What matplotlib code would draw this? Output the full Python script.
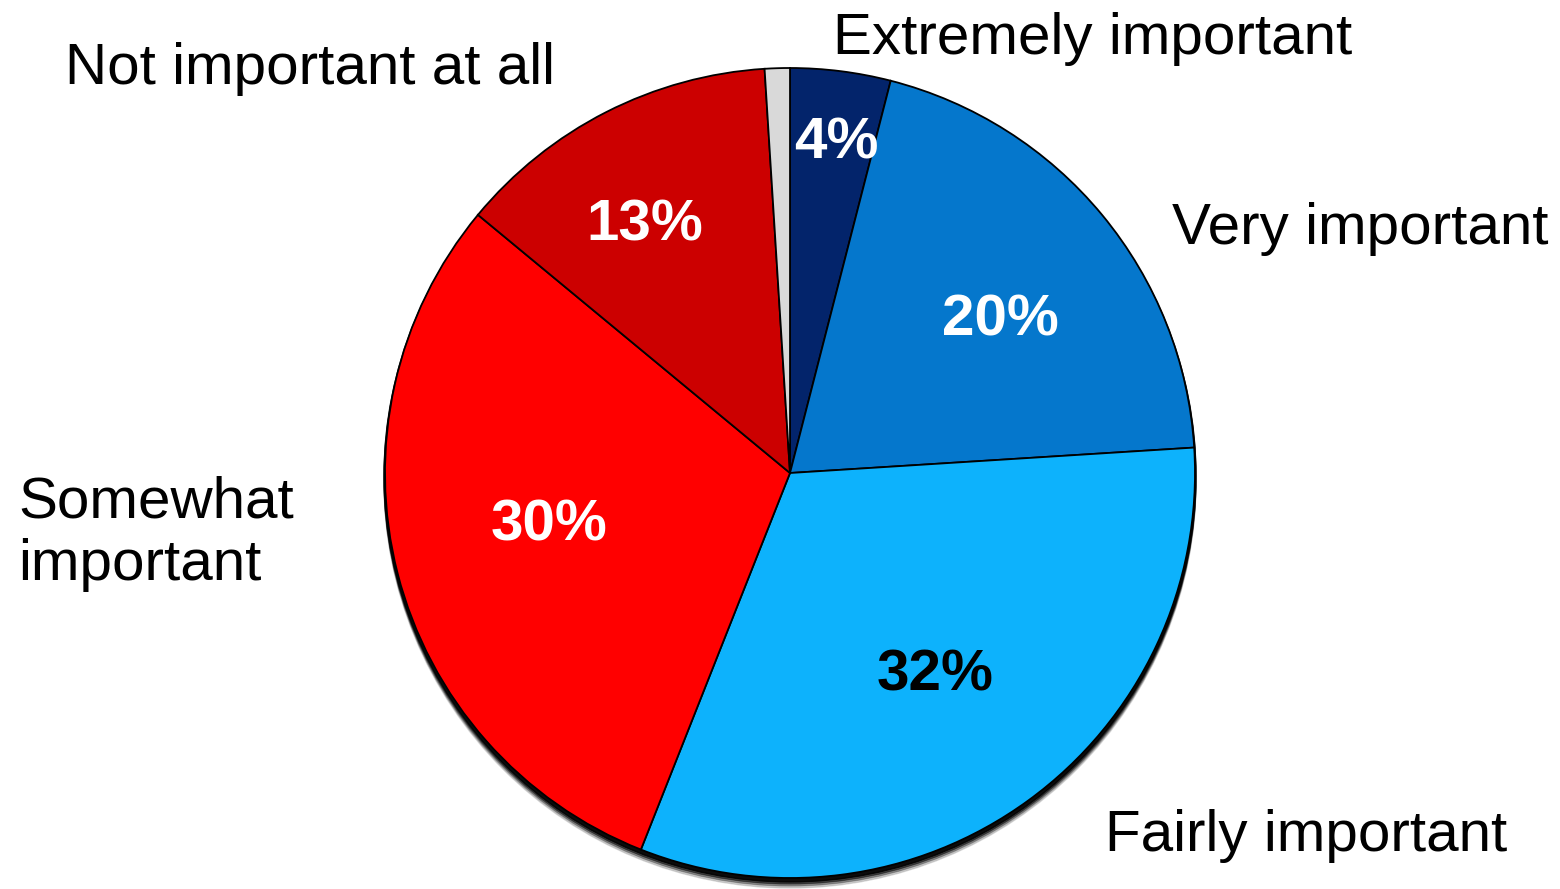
import numpy as np
import matplotlib.pyplot as plt
from matplotlib.patches import Circle

plt.rcParams['font.family'] = ['Liberation Sans', 'DejaVu Sans']

values = [4, 20, 32, 30, 13, 1]
pct_labels = ['4%', '20%', '32%', '30%', '13%', '']
colors = ['#03246B', '#0577CC', '#0DB2FC', '#FF0000', '#CC0000', '#D9D9D9']
pct_colors = ['white', 'white', 'black', 'white', 'white', 'white']
# radial distance and clockwise angle nudge for the percent labels
pct_dist = [0.82, 0.64, 0.616, 0.61, 0.707, 0.6]
pct_turn = [0.8, 3.9, 0.5, 2.0, -3.4, 0]

cat_labels = ['Extremely important', 'Very important', 'Fairly important',
              'Somewhat\nimportant', 'Not important at all']

W, H = 1560, 889
fig = plt.figure(figsize=(15.6, 8.89), dpi=100)
ax = fig.add_axes([0, 0, 1, 1])

cx, cy, r = 790, H - 473, 405

# soft shadow under the pie
for k, a in zip([9, 7, 5, 3], [0.15, 0.3, 0.5, 0.85]):
    ax.add_patch(Circle((cx, cy - k), r + 1, color='black', alpha=a, zorder=0))

wedges, _ = ax.pie(values, colors=colors, startangle=90, counterclock=False,
                   center=(cx, cy), radius=r, frame=True,
                   wedgeprops=dict(edgecolor='black', linewidth=1.3))
ax.set_xlim(0, W)
ax.set_ylim(0, H)
ax.set_aspect('equal')
ax.axis('off')

for w, lab, c, d, t in zip(wedges, pct_labels, pct_colors, pct_dist, pct_turn):
    if not lab:
        continue
    ang = np.deg2rad((w.theta1 + w.theta2) / 2 - t)
    ax.text(cx + d * r * np.cos(ang), cy + d * r * np.sin(ang) + 1, lab,
            ha='center', va='center', fontsize=42, fontweight='bold', color=c)

fs = 42
ax.text(833, H - 39, cat_labels[0], fontsize=fs, ha='left', va='center')
ax.text(1172, H - 229, cat_labels[1], fontsize=fs, ha='left', va='center')
ax.text(1105, H - 836, cat_labels[2], fontsize=fs, ha='left', va='center')
ax.text(18, H - 534, cat_labels[3], fontsize=fs, ha='left', va='center',
        linespacing=1.2)
ax.text(65, H - 69, cat_labels[4], fontsize=fs, ha='left', va='center')

fig.savefig('out.png', dpi=100)
